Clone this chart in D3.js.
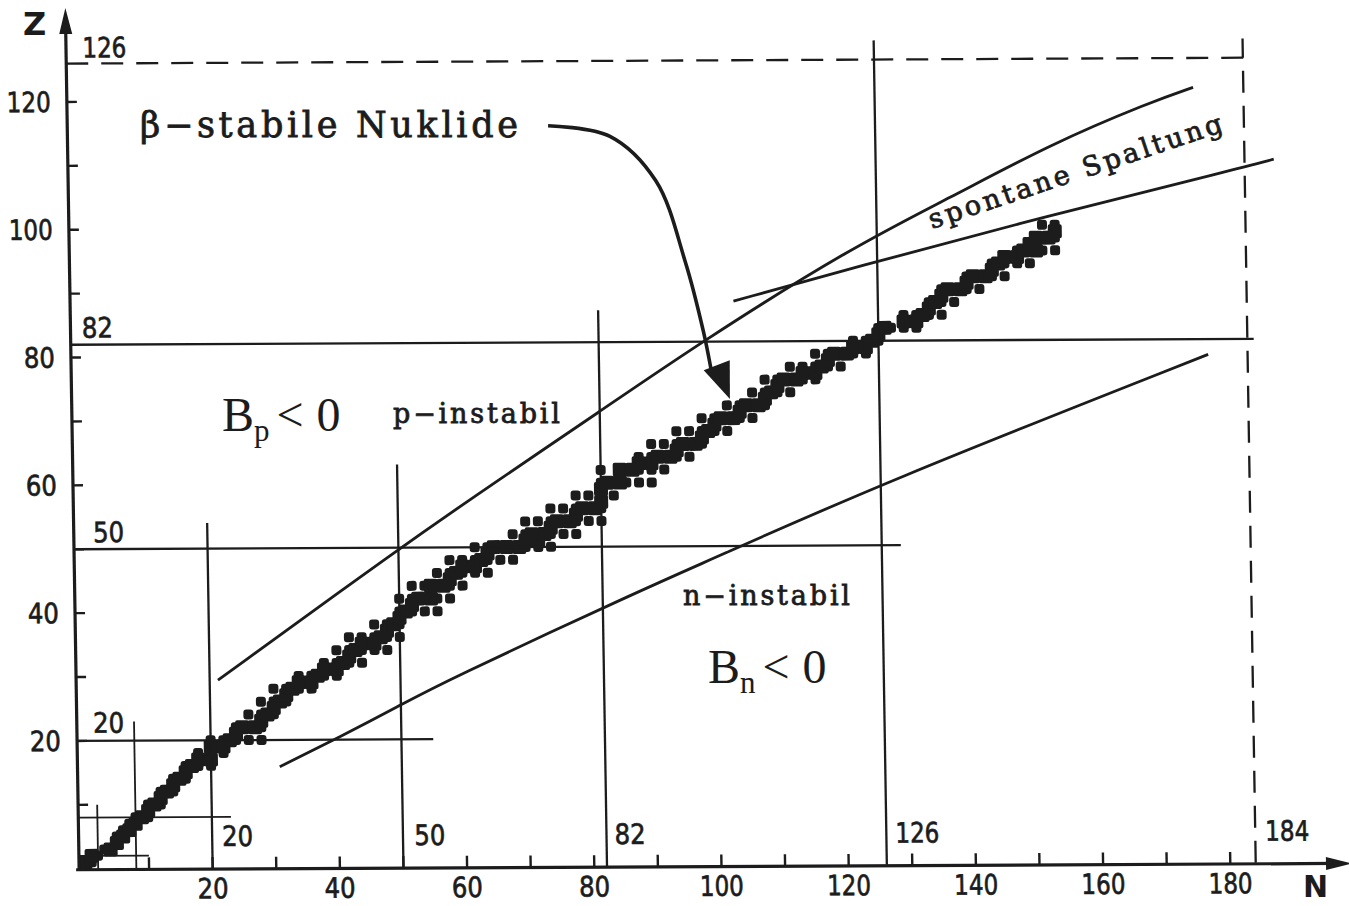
<!DOCTYPE html>
<html lang="de">
<head>
<meta charset="utf-8">
<title>Stabile Nuklide</title>
<script src="https://d3js.org/d3.v7.min.js"></script>
<style>
  body { margin: 0; background: #fff; }
  svg { display: block; }
  .serif { font-family: "DejaVu Serif", serif; fill: #1c1c1c; stroke: #1c1c1c; stroke-width: 0.8px; }
  .num { font-family: "DejaVu Sans", sans-serif; fill: #1c1c1c; stroke: #1c1c1c; stroke-width: 0.7px; }
  .times { font-family: "Liberation Serif", "Times New Roman", serif; fill: #1c1c1c; }
</style>
</head>
<body>
<script>
// beta-stable nuclides: proton number and the neutron numbers for it
var protonZ = [1,2,3,4,5,6,7,8,9,10,11,12,13,14,15,16,17,18,19,20,
  21,22,23,24,25,26,27,28,29,30,31,32,33,34,35,36,37,38,39,40,
  41,42,44,45,46,47,48,49,50,51,52,53,54,55,56,57,58,59,60,62,
  63,64,65,66,67,68,69,70,71,72,73,74,75,76,77,78,79,80,81,82,
  83,84,85,86,87,88,89,90,91,92,93,94,95,96,97,98,99,100];
var neutronN = [
  [0,1],[1,2],[3,4],[5],[5,6],[6,7],[7,8],[8,9,10],[10],[10,11,12],
  [12],[12,13,14],[14],[14,15,16],[16],[16,17,18,20],[18,20],[18,20,22],[20,22],[20,22,23,24,26,28],
  [24],[24,25,26,27,28],[28],[26,28,29,30],[30],[28,30,31,32],[32],[30,32,33,34,36],[34,36],[34,36,37,38,40],
  [38,40],[38,40,41,42,44],[42],[40,42,43,44,46,48],[44,46],[42,44,46,47,48,50],[48],[46,48,49,50],[50],[50,51,52,54,56],
  [52],[50,52,53,54,55,56,58],[52,54,55,56,57,58,60],[58],[56,58,59,60,62,64],[60,62],[58,60,62,63,64,66,68],[64],
  [62,64,65,66,67,68,69,70,72,74],[70,72],[68,70,71,72,73,74,76,78],[74],[70,72,74,75,76,77,78,80,82],[78],
  [74,76,78,79,80,81,82],[82],[78,80,82,84],[82],[82,83,84,85,86,88,90],[82,85,86,87,88,90,92],
  [88,90],[88,90,91,92,93,94,96],[94],[90,92,94,95,96,97,98],[98],[94,96,98,99,100,102],[100],
  [98,100,101,102,103,104,106],[104],[102,104,105,106,107,108],[108],[106,108,109,110,112],[110],
  [108,110,111,112,113,114,116],[114,116],[112,114,116,117,118,120],[118],[116,118,119,120,121,122,124],
  [122,124],[122,124,125,126],[126],[126,127,128,130,132],[130,132],[130,132,133,134,136],[134],
  [134,135,136,138],[136],[136,137,138,139,140,142],[140],[140,141,142,143,144,146],[144],
  [144,145,146,148,150],[146,148],[148,149,150,151,152,154],[150],[151,152,153,154],[154],[152,154]
];

// magic numbers and how far their lines reach
var magicN = [2, 8, 20, 50, 82, 126];
var magicNReach = [10, 23, 54, 63, 87, 129];
var magicZ = [2, 8, 20, 50, 82];
var magicZReach = [10, 23, 55, 129, 185];
var dashedN = 184, dashedNReach = 129;
var dashedZ = 126, dashedZReach = 185;

// boundary curves (N, Z)
var pDripN = [21.3, 50.0, 66.2, 81.5, 97.9, 121.8, 137.6, 153.5, 169.3, 176.1];
var pDripZ = [29.4, 49.8, 60.7, 70.8, 81.8, 96.5, 104.3, 112.6, 119.1, 121.4];
var nDripN = [30.8, 40.3, 49.9, 56.2, 89.5, 98.5, 125.9, 177.8];
var nDripZ = [15.8, 20.4, 25.3, 28.7, 43.8, 47.6, 59.6, 79.6];
var fissN = [103.3, 121.7, 153.3, 182.8, 188.6];
var fissZ = [88.3, 93.3, 101.5, 108.6, 110.1];
var arrowN = [74.6, 84.3, 91.4, 95.8, 98.5, 99.6];
var arrowZ = [115.9, 114.2, 107.2, 94.6, 83.6, 77.7];
var arrowTip = [102.5, 73.0];

var xTickVals = [10,20,30,40,50,60,70,80,90,100,110,120,130,140,150,160,170,180];
var xTickLabels = [20,40,60,80,100,120,140,160,180];
var yTickVals = [10,20,30,40,50,60,70,80,90,100,110,120];
var yTickLabels = [20,40,60,80,100,120];

var W = 1349, H = 906;
var ink = "#1c1c1c";

var x = d3.scaleLinear().domain([0, 100]).range([85.5, 721.5]);
var y = d3.scaleLinear().domain([0, 100]).range([868.7, 229.7]);

var svg = d3.select("body").append("svg")
    .attr("width", W).attr("height", H);

// the scan is slightly sheared
var kx = 0.016, ky = -0.005;
var g = svg.append("g")
    .attr("transform", "matrix(1," + ky + "," + kx + ",1," + (-kx * 870) + "," + (-ky * 85) + ")");

// nuclides: odd mass numbers form the thick staircase, even ones the dots
var nuclides = [];
protonZ.forEach(function (z, i) {
    neutronN[i].forEach(function (n) { nuclides.push({ Z: z, N: n, odd: (z + n) % 2 == 1 }); });
});

g.append("g").selectAll("rect")
    .data(nuclides.filter(function (d) { return !d.odd; }))
    .enter().append("rect")
    .attr("x", function (d) { return x(d.N) - 5; })
    .attr("y", function (d) { return y(d.Z) - 5; })
    .attr("width", 10).attr("height", 10)
    .attr("rx", 3)
    .attr("fill", ink);

g.append("g").selectAll("rect")
    .data(nuclides.filter(function (d) { return d.odd; }))
    .enter().append("rect")
    .attr("x", function (d) { return x(d.N) - 7; })
    .attr("y", function (d) { return y(d.Z) - 7; })
    .attr("width", 14).attr("height", 14)
    .attr("rx", 2)
    .attr("fill", ink);

// magic lines
magicN.forEach(function (n, i) {
    g.append("line")
        .attr("x1", x(n)).attr("x2", x(n))
        .attr("y1", y(0)).attr("y2", y(magicNReach[i]))
        .attr("stroke", ink).attr("stroke-width", n < 10 ? 1.8 : 2.3);
});
magicZ.forEach(function (z, i) {
    g.append("line")
        .attr("x1", x(-1)).attr("x2", x(magicZReach[i]))
        .attr("y1", y(z)).attr("y2", y(z))
        .attr("stroke", ink).attr("stroke-width", z < 10 ? 1.8 : 2.3);
});
g.append("line")
    .attr("x1", x(dashedN)).attr("x2", x(dashedN))
    .attr("y1", y(0)).attr("y2", y(dashedNReach))
    .attr("stroke", ink).attr("stroke-width", 2.3)
    .attr("stroke-dasharray", "22,13");
g.append("line")
    .attr("x1", x(-1)).attr("x2", x(dashedZReach))
    .attr("y1", y(dashedZ)).attr("y2", y(dashedZ))
    .attr("stroke", ink).attr("stroke-width", 2.3)
    .attr("stroke-dasharray", "22,13");

// curves
var line = d3.line()
    .x(function (d) { return x(d[0]); })
    .y(function (d) { return y(d[1]); })
    .curve(d3.curveBasis);

[[pDripN, pDripZ], [nDripN, nDripZ], [fissN, fissZ]].forEach(function (c) {
    g.append("path")
        .attr("d", line(d3.zip(c[0], c[1])))
        .attr("fill", "none").attr("stroke", ink).attr("stroke-width", 2.8);
});

// arrow from the label to the band
var ap = d3.zip(arrowN, arrowZ);
g.append("path")
    .attr("d", line.curve(d3.curveCatmullRom.alpha(0.5))(ap))
    .attr("fill", "none").attr("stroke", ink).attr("stroke-width", 3.6);
var tx = x(arrowTip[0]), ty = y(arrowTip[1]);
var last = ap[ap.length - 2];
var dx = tx - x(last[0]), dy = ty - y(last[1]);
var len = Math.sqrt(dx * dx + dy * dy);
dx /= len; dy /= len;
var bx = tx - dx * 36, by = ty - dy * 36;
g.append("path")
    .attr("d", "M" + tx + "," + ty + "L" + (bx - dy * 14) + "," + (by + dx * 14) +
        "L" + (bx + dy * 14) + "," + (by - dx * 14) + "Z")
    .attr("fill", ink);

// axes
var ax0 = x(-1), ay0 = y(0) + 1;
g.append("line").attr("x1", ax0).attr("x2", ax0).attr("y1", ay0).attr("y2", 24)
    .attr("stroke", ink).attr("stroke-width", 3.2);
g.append("path").attr("d", "M" + ax0 + ",8L" + (ax0 - 6.5) + ",34L" + (ax0 + 6.5) + ",34Z").attr("fill", ink);
g.append("line").attr("x1", ax0 - 3).attr("x2", 1335).attr("y1", ay0).attr("y2", ay0)
    .attr("stroke", ink).attr("stroke-width", 3.2);
g.append("path").attr("d", "M1352," + ay0 + "L1326," + (ay0 - 6.5) + "L1326," + (ay0 + 6.5) + "Z").attr("fill", ink);

g.selectAll(".xt").data(xTickVals).enter().append("line")
    .attr("x1", function (d) { return x(d); }).attr("x2", function (d) { return x(d); })
    .attr("y1", ay0).attr("y2", ay0 - 12)
    .attr("stroke", ink).attr("stroke-width", 2.4);
g.selectAll(".yt").data(yTickVals).enter().append("line")
    .attr("x1", ax0).attr("x2", ax0 + 10)
    .attr("y1", function (d) { return y(d); }).attr("y2", function (d) { return y(d); })
    .attr("stroke", ink).attr("stroke-width", 2.4);

function numText(parent, txt, px, py, anchor) {
    var w = String(txt).length == 3 ? 44 : 31;
    return parent.append("text").attr("class", "num")
        .attr("x", anchor == "end" ? px - w : (anchor == "middle" ? px - w / 2 : px))
        .attr("y", py)
        .attr("font-size", 28)
        .attr("textLength", w).attr("lengthAdjust", "spacingAndGlyphs")
        .text(txt);
}

xTickLabels.forEach(function (v) { numText(g, v, x(v), 899, "middle"); });
yTickLabels.forEach(function (v) { numText(g, v, 63, y(v) + 10, "end"); });

// magic number labels
[[20, 10], [50, 11.5], [82, 8], [126, 9], [184, 10]].forEach(function (m) {
    numText(g, m[0], x(m[0]) + m[1], y(0) - 22, "start");
});
numText(g, 126, x(0) + 10, y(126) - 6, "start");
numText(g, 82, x(0) + 5, y(82) - 7, "start");
numText(g, 50, x(0) + 13, y(50) - 7, "start");
numText(g, 20, x(0) + 10, y(20) - 8, "start");

// axis names
svg.append("text").attr("x", 23).attr("y", 35)
    .attr("font-family", "DejaVu Sans, sans-serif").attr("font-weight", "bold")
    .attr("font-size", 32).attr("fill", ink).text("Z");
svg.append("text").attr("x", 1303).attr("y", 897)
    .attr("font-family", "DejaVu Sans, sans-serif").attr("font-weight", "bold")
    .attr("font-size", 30).attr("fill", ink).text("N");

// annotations
svg.append("text").attr("class", "serif")
    .attr("x", 140).attr("y", 137).attr("font-size", 35)
    .attr("textLength", 378).attr("lengthAdjust", "spacing")
    .text("β−stabile Nuklide");
svg.append("text").attr("class", "serif")
    .attr("x", 393).attr("y", 423).attr("font-size", 27)
    .attr("textLength", 167).attr("lengthAdjust", "spacing")
    .text("p−instabil");
svg.append("text").attr("class", "serif")
    .attr("x", 683).attr("y", 605).attr("font-size", 27)
    .attr("textLength", 167).attr("lengthAdjust", "spacing")
    .text("n−instabil");
svg.append("text").attr("class", "serif")
    .attr("transform", "translate(932,229) rotate(-18.5)")
    .attr("font-size", 27)
    .attr("textLength", 308).attr("lengthAdjust", "spacing")
    .text("spontane Spaltung");

function bLabel(px, py, sub) {
    var t = svg.append("text").attr("class", "times")
        .attr("x", px).attr("y", py).attr("font-size", 48);
    t.append("tspan").text("B");
    t.append("tspan").attr("font-size", 31).attr("dy", 10).text(sub);
    t.append("tspan").attr("dy", -10).attr("dx", 7).text("<");
    t.append("tspan").attr("dx", 13).text("0");
}
bLabel(222, 431, "p");
bLabel(708, 683, "n");
</script>
</body>
</html>
